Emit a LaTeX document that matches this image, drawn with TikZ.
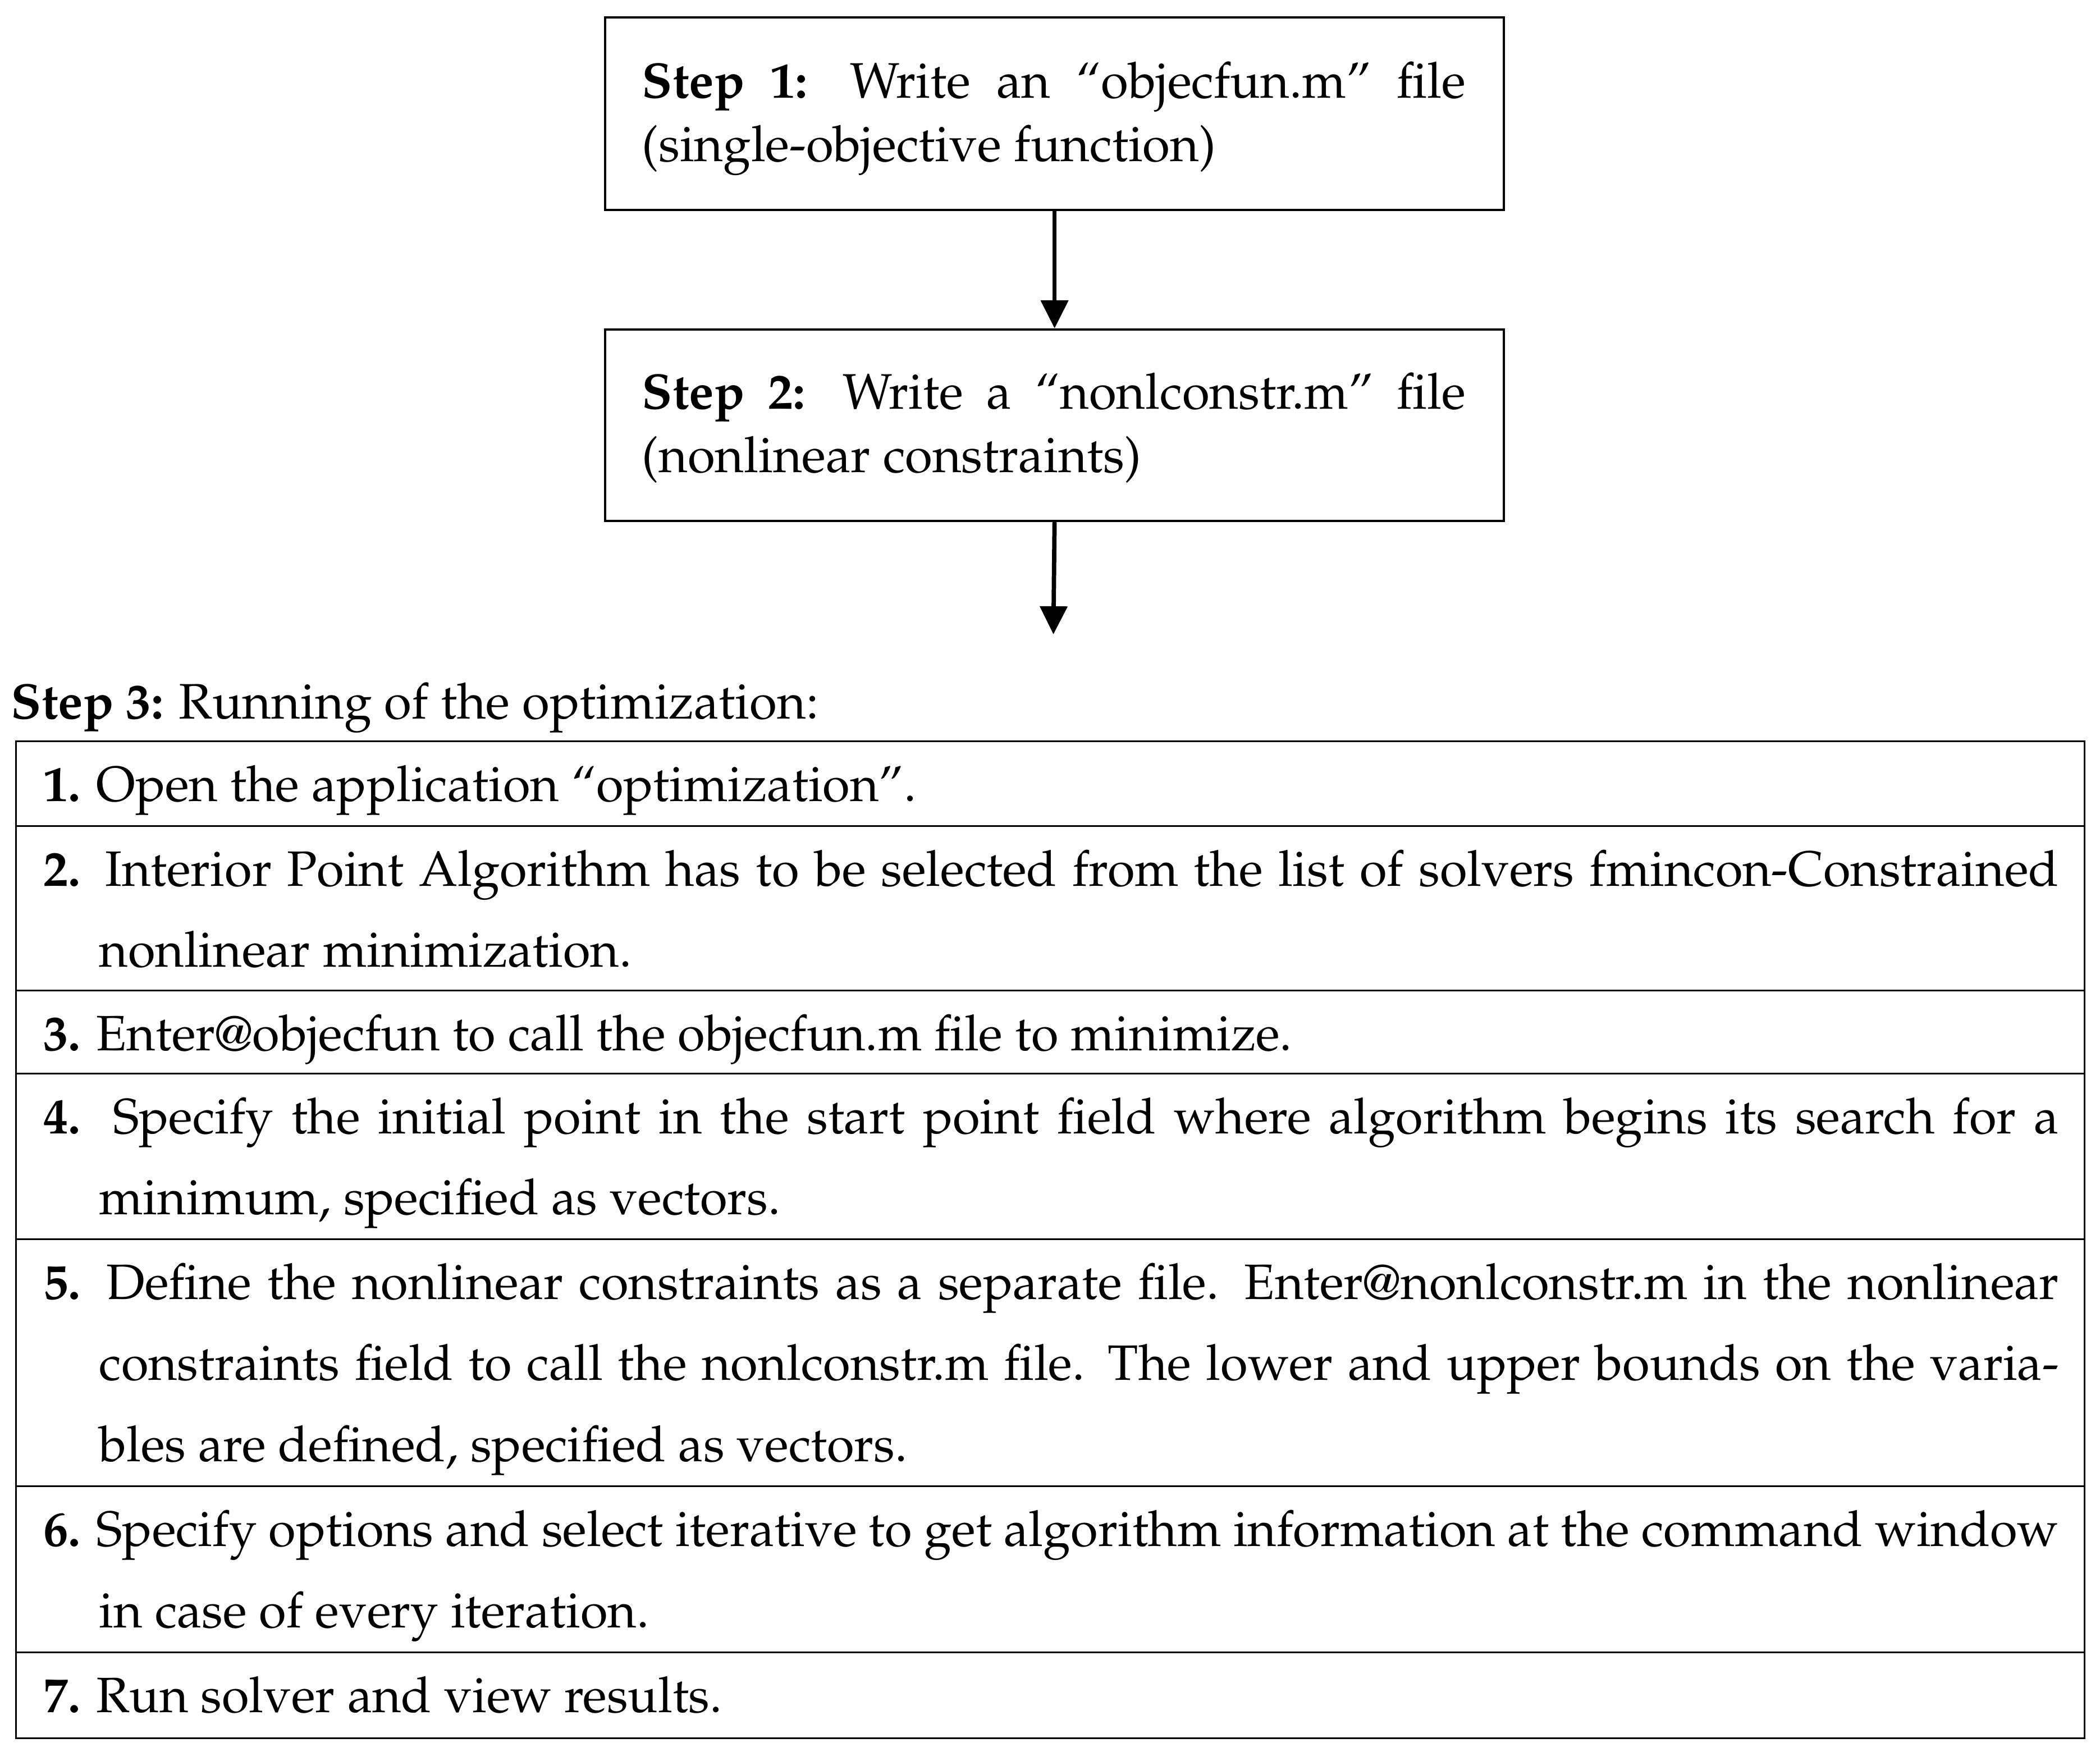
\documentclass[tikz,border=0pt]{standalone}
\usepackage[T1]{fontenc}
\usepackage{mathpazo}
\usetikzlibrary{arrows.meta}
\begin{document}
\begin{tikzpicture}[x=1cm,y=1cm,
  stepbox/.style={draw,line width=1.2pt,minimum width=16.01cm,inner sep=0pt,anchor=north west},
  boxtext/.style={anchor=base west,inner sep=0pt,text width=14.67cm,align=justify,font=\fontsize{25.3pt}{32.1pt}\selectfont},
  rowbox/.style={draw,line width=0.95pt,minimum width=36.85cm,inner sep=0pt,anchor=north west},
  rowtext/.style={anchor=base west,inner sep=0pt,text width=35.9cm,align=justify,font=\fontsize{25.2pt}{41.25pt}\selectfont},
  arr/.style={line width=2.2pt,-{Triangle[length=0.5cm,width=0.48cm]}}]
\useasboundingbox (0,0) rectangle (37.41,-31.21);
% flow boxes
\node[stepbox,minimum height=3.43cm] (b1) at (10.76,-0.29) {};
\node[stepbox,minimum height=3.41cm] (b2) at (10.76,-5.85) {};
\node[boxtext] (t1) at (11.43,-1.75) {\textbf{Step 1:} Write an ``objecfun.m'' file\linebreak (single-objective function)};
\node[boxtext] (t2) at (11.43,-7.29) {\textbf{Step 2:} Write a ``nonlconstr.m'' file\linebreak (nonlinear constraints)};
\coordinate (c3) at (18.765,-11.30);
\draw[arr] (b1.south) -- (b2.north);
\draw[arr] (b2.south) -- (c3);
% step 3 label
\node[anchor=base west,inner sep=0pt,font=\fontsize{25.3pt}{32pt}\selectfont] (s3) at (0.19,-12.80) {\textbf{Step 3:} Running of the optimization:};
% table rows
\node[rowbox,minimum height=1.51cm] (r1) at (0.27,-13.19) {};
\node[rowbox,minimum height=2.93cm] (r2) at (0.27,-14.70) {};
\node[rowbox,minimum height=1.48cm] (r3) at (0.27,-17.63) {};
\node[rowbox,minimum height=2.95cm] (r4) at (0.27,-19.11) {};
\node[rowbox,minimum height=4.40cm] (r5) at (0.27,-22.06) {};
\node[rowbox,minimum height=2.96cm] (r6) at (0.27,-26.46) {};
\node[rowbox,minimum height=1.53cm] (r7) at (0.27,-29.42) {};
\node[rowtext] (x1) at (0.77,-14.27) {\textbf{1.} Open the application ``optimization''.};
\node[rowtext] (x2) at (0.77,-15.78) {\hangindent=0.99cm\hangafter=1 \textbf{2.} Interior Point Algorithm has to be selected from the list of solvers fmincon-Constrained\linebreak nonlinear minimization.\par};
\node[rowtext] (x3) at (0.77,-18.71) {\textbf{3.} Enter@objecfun to call the objecfun.m file to minimize.};
\node[rowtext] (x4) at (0.77,-20.19) {\hangindent=0.99cm\hangafter=1 \textbf{4.} Specify the initial point in the start point field where algorithm begins its search for a\linebreak minimum, specified as vectors.\par};
\node[rowtext] (x5) at (0.77,-23.14) {\hangindent=0.99cm\hangafter=1 \textbf{5.} Define the nonlinear constraints as a separate file. Enter@nonlconstr.m in the nonlinear\linebreak constraints field to call the nonlconstr.m file. The lower and upper bounds on the varia-\linebreak bles are defined, specified as vectors.\par};
\node[rowtext] (x6) at (0.77,-27.54) {\hangindent=0.99cm\hangafter=1 \textbf{6.} Specify options and select iterative to get algorithm information at the command window\linebreak in case of every iteration.\par};
\node[rowtext] (x7) at (0.77,-30.50) {\textbf{7.} Run solver and view results.};
\end{tikzpicture}
\end{document}
